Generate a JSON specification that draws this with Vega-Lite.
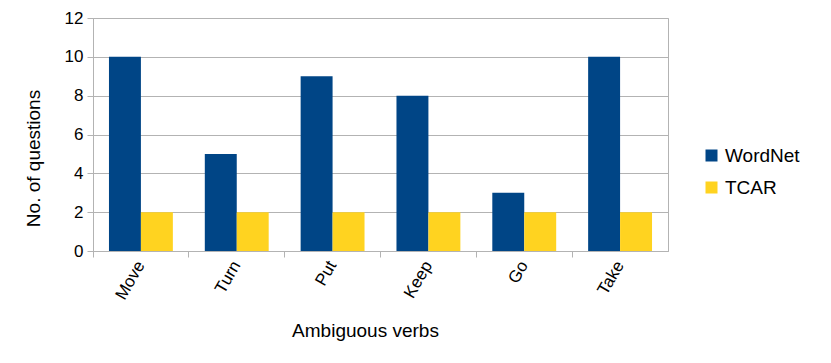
{
  "$schema": "https://vega.github.io/schema/vega-lite/v6.json",
  "width": 575,
  "height": 233,
  "autosize": "none",
  "padding": {"left": 93, "top": 18, "right": 163, "bottom": 112},
  "background": "white",
  "config": {
    "font": "Liberation Sans",
    "view": {"stroke": "#b3b3b3", "strokeWidth": 1}
  },
  "data": {
    "values": [
      {"verb": "Move", "source": "WordNet", "count": 10},
      {"verb": "Move", "source": "TCAR", "count": 2},
      {"verb": "Turn", "source": "WordNet", "count": 5},
      {"verb": "Turn", "source": "TCAR", "count": 2},
      {"verb": "Put", "source": "WordNet", "count": 9},
      {"verb": "Put", "source": "TCAR", "count": 2},
      {"verb": "Keep", "source": "WordNet", "count": 8},
      {"verb": "Keep", "source": "TCAR", "count": 2},
      {"verb": "Go", "source": "WordNet", "count": 3},
      {"verb": "Go", "source": "TCAR", "count": 2},
      {"verb": "Take", "source": "WordNet", "count": 10},
      {"verb": "Take", "source": "TCAR", "count": 2}
    ]
  },
  "mark": {"type": "bar"},
  "encoding": {
    "x": {
      "field": "verb",
      "type": "nominal",
      "sort": ["Move", "Turn", "Put", "Keep", "Go", "Take"],
      "scale": {"paddingInner": 0, "paddingOuter": 0},
      "axis": {
        "title": "Ambiguous verbs",
        "titleFont": "Liberation Sans",
        "titleFontSize": 19,
        "titleFontWeight": "normal",
        "titleColor": "#000000",
        "titleX": 272,
        "titleY": 79,
        "titleBaseline": "middle",
        "titleAlign": "center",
        "bandPosition": 0,
        "labelAngle": -60,
        "labelAlign": "right",
        "labelBaseline": "middle",
        "labelFontSize": 17,
        "labelColor": "#000000",
        "labelPadding": 5,
        "tickColor": "#b3b3b3",
        "tickSize": 6,
        "domainColor": "#b3b3b3",
        "grid": false
      }
    },
    "xOffset": {
      "field": "source",
      "type": "nominal",
      "sort": ["WordNet", "TCAR"],
      "scale": {"paddingInner": 0, "paddingOuter": 0.5}
    },
    "y": {
      "field": "count",
      "type": "quantitative",
      "scale": {"domain": [0, 12], "nice": false},
      "axis": {
        "title": "No. of questions",
        "titleFont": "Liberation Sans",
        "titleFontSize": 19,
        "titleFontWeight": "normal",
        "titleColor": "#000000",
        "titleAngle": -90,
        "titleX": -60,
        "titleY": 140,
        "titleAlign": "center",
        "titleBaseline": "middle",
        "values": [0, 2, 4, 6, 8, 10, 12],
        "labelFontSize": 17,
        "labelColor": "#000000",
        "labelPadding": 4,
        "tickColor": "#b3b3b3",
        "tickSize": 6,
        "domainColor": "#b3b3b3",
        "gridColor": "#b3b3b3",
        "gridOpacity": 1
      }
    },
    "color": {
      "field": "source",
      "type": "nominal",
      "sort": ["WordNet", "TCAR"],
      "scale": {"domain": ["WordNet", "TCAR"], "range": ["#004586", "#ffd320"]},
      "legend": {
        "title": null,
        "orient": "none",
        "legendX": 609,
        "legendY": 128,
        "symbolType": "square",
        "symbolSize": 144,
        "symbolStrokeWidth": 0,
        "labelFontSize": 19,
        "labelColor": "#000000",
        "labelOffset": 4,
        "rowPadding": 12
      }
    }
  }
}
